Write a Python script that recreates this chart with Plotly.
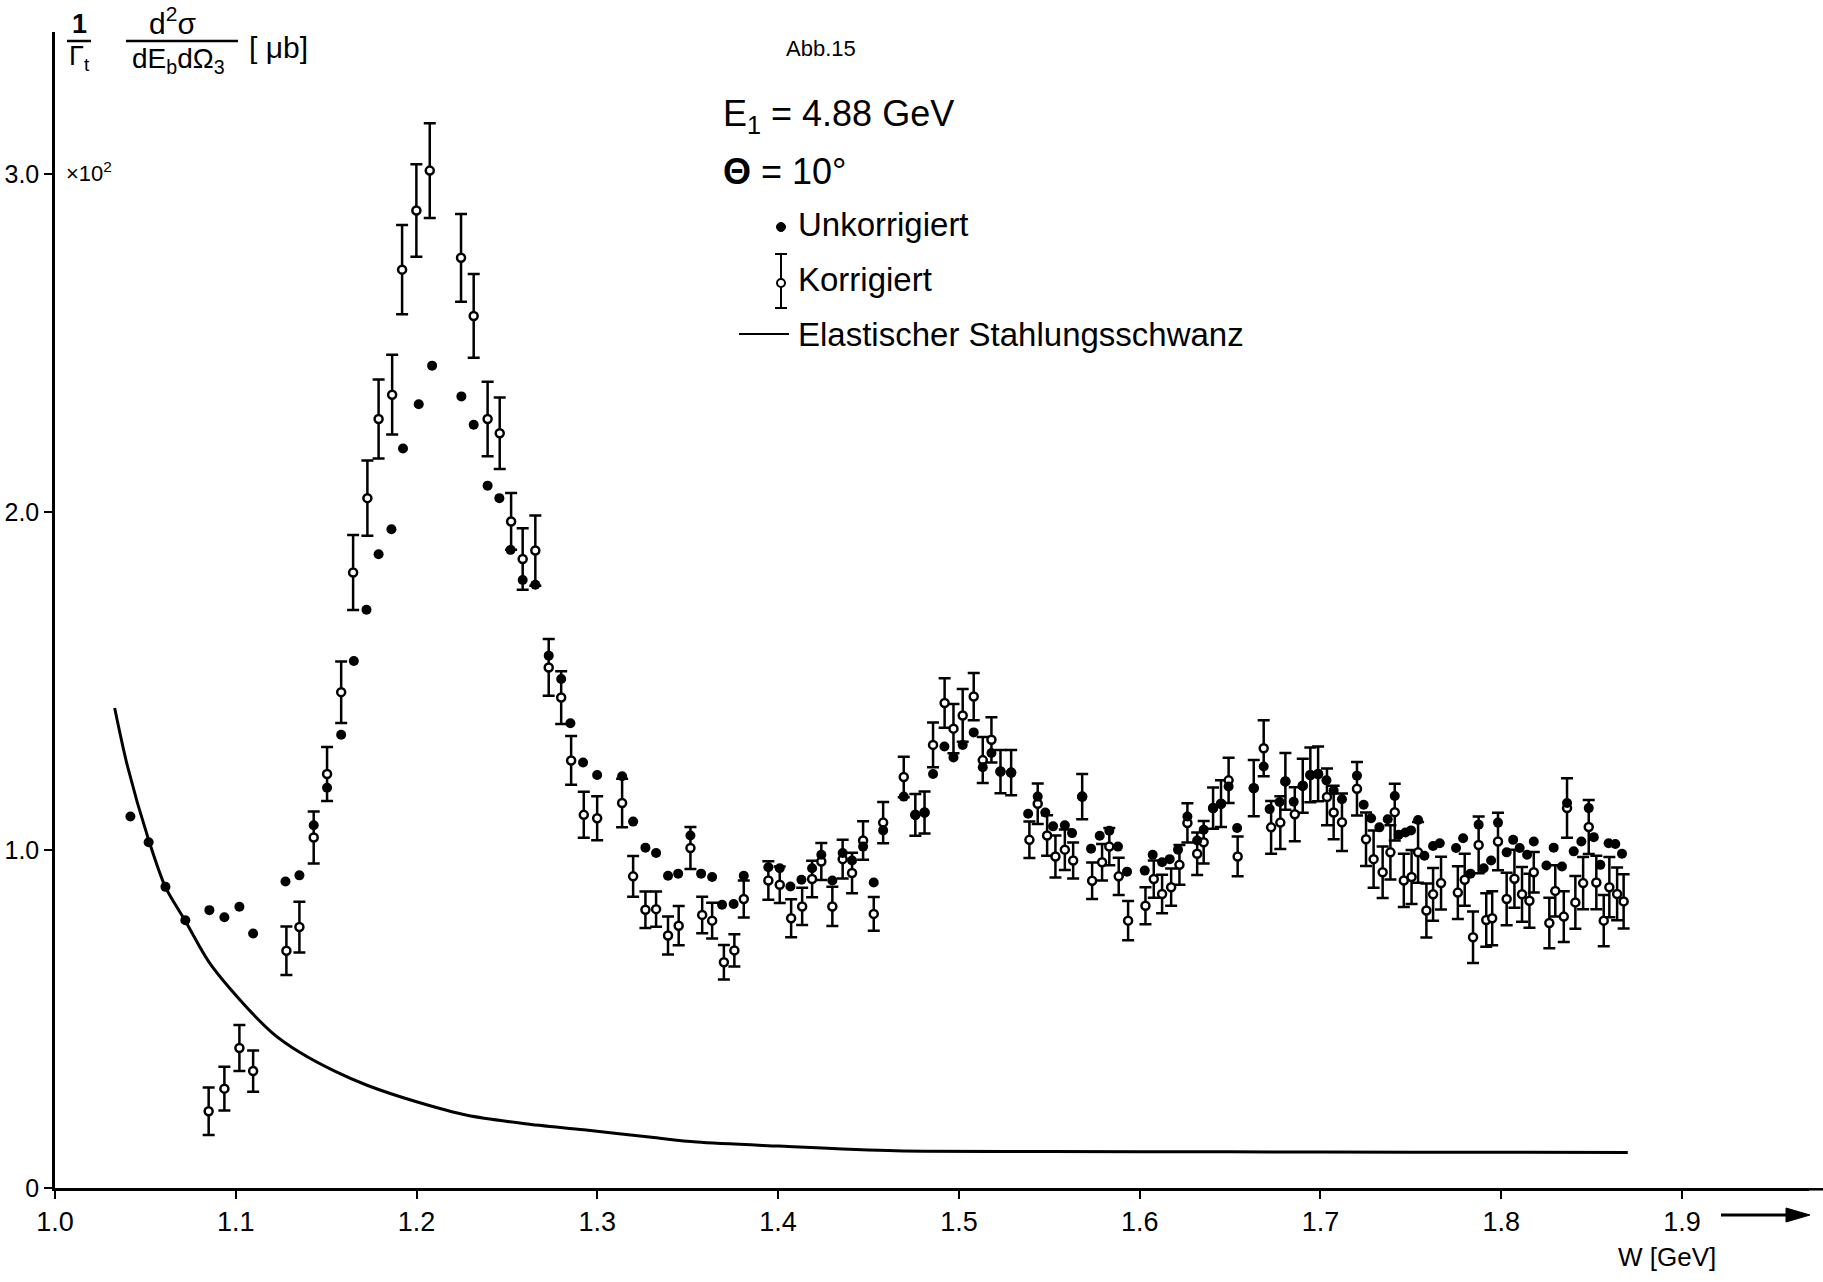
import plotly.graph_objects as go

# ---------------- data ----------------
# Korrigiert: W [GeV], value [x10^2 µb], error
W_korr = [1.085, 1.0937, 1.102, 1.1096, 1.128, 1.1352, 1.1431, 1.1505, 1.1583, 1.1649,
          1.1728, 1.179, 1.1865, 1.192, 1.1999, 1.2073, 1.2246, 1.2316, 1.2393, 1.246,
          1.2523, 1.2587, 1.2657, 1.2731, 1.28, 1.2855, 1.2925, 1.2999, 1.3137, 1.3198,
          1.3266, 1.3325, 1.3391, 1.3450, 1.3515, 1.3580, 1.3635, 1.370, 1.3758, 1.381,
          1.3946, 1.4009, 1.4072, 1.4133, 1.4188, 1.4239, 1.4300, 1.4357, 1.4409, 1.4470,
          1.4529, 1.4581, 1.4695, 1.4759, 1.481, 1.4857, 1.4921, 1.4970, 1.5021, 1.5082,
          1.5132, 1.5180, 1.523, 1.5289, 1.539, 1.5436, 1.5488, 1.5534, 1.5586, 1.5632,
          1.5682, 1.5737, 1.5792, 1.5832, 1.5884, 1.5936, 1.6032, 1.6078, 1.6124, 1.6174,
          1.622, 1.6264, 1.6318, 1.6354, 1.6406, 1.645, 1.6492, 1.6542, 1.6631, 1.6686,
          1.6727, 1.6778, 1.6806, 1.6858, 1.6902, 1.6944, 1.6987, 1.7036, 1.7073, 1.7119,
          1.7202, 1.7252, 1.7294, 1.7344, 1.7387, 1.7411, 1.7461, 1.7504, 1.754, 1.7586,
          1.7623, 1.7667, 1.776, 1.7798, 1.7844, 1.7875, 1.7917, 1.795, 1.7982, 1.803,
          1.8073, 1.8115, 1.8156, 1.818, 1.8266, 1.8299, 1.8346, 1.8364, 1.841, 1.8453,
          1.8484, 1.8526, 1.8567, 1.8598, 1.8641, 1.8677]
V_korr = [0.227, 0.294, 0.414, 0.346, 0.702, 0.772, 1.037, 1.225, 1.467, 1.821,
          2.041, 2.275, 2.347, 2.717, 2.892, 3.010, 2.752, 2.580, 2.275, 2.233,
          1.972, 1.861, 1.886, 1.540, 1.451, 1.265, 1.104, 1.094, 1.139, 0.922,
          0.823, 0.825, 0.747, 0.776, 1.006, 0.808, 0.791, 0.668, 0.703, 0.855,
          0.910, 0.897, 0.798, 0.833, 0.914, 0.966, 0.833, 0.973, 0.932, 1.028,
          0.811, 1.081, 1.216, 1.104, 1.111, 1.311, 1.435, 1.359, 1.398, 1.454,
          1.266, 1.326, 1.232, 1.229, 1.030, 1.137, 1.043, 0.981, 1.001, 0.969,
          1.158, 0.909, 0.964, 1.010, 0.922, 0.791, 0.835, 0.914, 0.870, 0.890,
          0.956, 1.080, 0.989, 1.023, 1.124, 1.137, 1.206, 0.981, 1.183, 1.301,
          1.067, 1.081, 1.203, 1.106, 1.190, 1.222, 1.225, 1.157, 1.111, 1.082,
          1.181, 1.032, 0.973, 0.934, 0.993, 1.112, 0.910, 0.920, 0.993, 0.821,
          0.869, 0.902, 0.874, 0.912, 0.742, 1.015, 0.793, 0.798, 1.025, 0.855,
          0.915, 0.869, 0.850, 0.934, 0.784, 0.879, 0.803, 1.124, 0.845, 0.902,
          1.068, 0.904, 0.791, 0.890, 0.870, 0.848]
E_korr = [0.070, 0.065, 0.068, 0.061, 0.072, 0.075, 0.077, 0.080, 0.091, 0.111,
          0.111, 0.117, 0.118, 0.132, 0.137, 0.140, 0.130, 0.124, 0.110, 0.106,
          0.084, 0.091, 0.104, 0.084, 0.078, 0.072, 0.068, 0.065, 0.072, 0.060,
          0.054, 0.052, 0.056, 0.058, 0.062, 0.054, 0.053, 0.051, 0.048, 0.055,
          0.057, 0.054, 0.056, 0.055, 0.054, 0.055, 0.058, 0.057, 0.060, 0.057,
          0.050, 0.061, 0.060, 0.062, 0.062, 0.066, 0.073, 0.073, 0.078, 0.070,
          0.068, 0.067, 0.064, 0.067, 0.054, 0.060, 0.060, 0.062, 0.060, 0.053,
          0.067, 0.054, 0.054, 0.055, 0.055, 0.058, 0.055, 0.055, 0.057, 0.055,
          0.059, 0.058, 0.063, 0.063, 0.061, 0.069, 0.067, 0.059, 0.083, 0.083,
          0.078, 0.078, 0.084, 0.080, 0.080, 0.081, 0.081, 0.084, 0.079, 0.085,
          0.079, 0.079, 0.085, 0.076, 0.080, 0.084, 0.079, 0.080, 0.090, 0.080,
          0.078, 0.078, 0.078, 0.077, 0.076, 0.084, 0.079, 0.080, 0.085, 0.078,
          0.086, 0.081, 0.080, 0.060, 0.075, 0.076, 0.075, 0.088, 0.078, 0.077,
          0.080, 0.079, 0.076, 0.089, 0.078, 0.080]

# Unkorrigiert: W [GeV], value [x10^2 µb]
W_unk = [1.0417, 1.0518, 1.0611, 1.0721, 1.0854, 1.0937, 1.102, 1.1096, 1.1275, 1.1352,
         1.1431, 1.1505, 1.1583, 1.1653, 1.1723, 1.179, 1.1861, 1.1925, 1.2012, 1.2086,
         1.2248, 1.2316, 1.2393, 1.2458, 1.252, 1.2587, 1.2657, 1.2731, 1.28, 1.2851,
         1.2921, 1.2999, 1.3137, 1.3198, 1.3266, 1.3325, 1.3391, 1.3447, 1.3515, 1.3574,
         1.3635, 1.369, 1.3754, 1.381, 1.3946, 1.4009, 1.4068, 1.4129, 1.4188, 1.4239,
         1.4300, 1.4357, 1.4409, 1.4470, 1.4529, 1.4581, 1.4695, 1.4759, 1.481, 1.4857,
         1.4920, 1.4970, 1.5021, 1.5082, 1.5132, 1.5180, 1.523, 1.5289, 1.5383, 1.5436,
         1.5478, 1.5521, 1.5586, 1.5626, 1.5682, 1.5731, 1.5779, 1.5832, 1.588, 1.593,
         1.6028, 1.6072, 1.6124, 1.6166, 1.6212, 1.6264, 1.6318, 1.6354, 1.6406, 1.645,
         1.6492, 1.6539, 1.6631, 1.6686, 1.6719, 1.6774, 1.6806, 1.6852, 1.6902, 1.6944,
         1.6987, 1.7033, 1.7073, 1.7119, 1.7202, 1.7239, 1.728, 1.7326, 1.7372, 1.7411,
         1.7433, 1.747, 1.7501, 1.754, 1.7575, 1.7623, 1.766, 1.775, 1.7789, 1.783,
         1.7875, 1.7903, 1.7944, 1.7982, 1.803, 1.8066, 1.8102, 1.8143, 1.818, 1.825,
         1.829, 1.8336, 1.8364, 1.8401, 1.8443, 1.8484, 1.8512, 1.8548, 1.8594, 1.8631,
         1.8668]
V_unk = [1.099, 1.023, 0.891, 0.792, 0.822, 0.801, 0.832, 0.753, 0.907, 0.925,
         1.073, 1.184, 1.341, 1.559, 1.711, 1.875, 1.949, 2.188, 2.319, 2.433,
         2.342, 2.258, 2.078, 2.041, 1.888, 1.799, 1.785, 1.575, 1.506, 1.375,
         1.259, 1.222, 1.218, 1.084, 1.007, 0.991, 0.924, 0.930, 1.043, 0.930,
         0.920, 0.838, 0.840, 0.924, 0.949, 0.946, 0.892, 0.912, 0.946, 0.986,
         0.910, 0.991, 0.969, 1.010, 0.904, 1.058, 1.158, 1.104, 1.111, 1.225,
         1.306, 1.274, 1.311, 1.348, 1.245, 1.287, 1.232, 1.229, 1.107, 1.158,
         1.111, 1.070, 1.073, 1.050, 1.158, 1.004, 1.042, 1.057, 1.010, 0.936,
         0.939, 0.986, 0.964, 0.973, 1.001, 1.099, 1.028, 1.060, 1.124, 1.137,
         1.188, 1.065, 1.183, 1.247, 1.121, 1.142, 1.203, 1.143, 1.190, 1.222,
         1.225, 1.206, 1.176, 1.150, 1.220, 1.134, 1.094, 1.067, 1.091, 1.160,
         1.045, 1.052, 1.058, 1.089, 0.983, 1.012, 1.020, 1.006, 1.035, 0.930,
         1.075, 0.946, 0.969, 1.081, 0.993, 1.030, 1.006, 0.986, 1.025, 0.954,
         1.007, 0.951, 1.139, 0.996, 1.025, 1.124, 1.038, 0.956, 1.020, 1.018,
         0.989]

# Elastischer Strahlungsschwanz (curve)
W_tail = [1.033, 1.040, 1.0518, 1.0611, 1.0721, 1.085, 1.1026, 1.12, 1.1358, 1.155,
          1.1726, 1.20, 1.228, 1.26, 1.2925, 1.33, 1.355, 1.40, 1.465, 1.55,
          1.65, 1.75, 1.87]
V_tail = [1.42, 1.25, 1.03, 0.89, 0.79, 0.67, 0.555, 0.46, 0.40, 0.345,
          0.304, 0.255, 0.215, 0.19, 0.172, 0.150, 0.136, 0.124, 0.110, 0.108,
          0.107, 0.106, 0.105]

x_tickvals = [1.0, 1.1, 1.2, 1.3, 1.4, 1.5, 1.6, 1.7, 1.8, 1.9]
x_ticktext = ["1.0", "1.1", "1.2", "1.3", "1.4", "1.5", "1.6", "1.7", "1.8", "1.9"]
y_tickvals = [0, 1, 2, 3]
y_ticktext = ["0", "1.0", "2.0", "3.0"]

# ---------------- layout geometry ----------------
FW, FH = 1823, 1282
ML, MR, MT, MB = 55, 14, 32, 94
PW, PH = FW - ML - MR, FH - MT - MB
X_PER_UNIT = 1807.8   # px per GeV
Y_PER_UNIT = 338.0    # px per 1.0 (x10^2)
x_range = [1.0, 1.0 + PW / X_PER_UNIT]
y_range = [0, PH / Y_PER_UNIT]

FONT = "Liberation Sans, Arial, sans-serif"


def PX(x):
    return (x - ML) / PW


def PY(y):
    return (FH - MB - y) / PH


fig = go.Figure()

fig.add_trace(go.Scatter(
    x=W_tail, y=V_tail, mode="lines",
    line=dict(color="black", width=3, shape="spline", smoothing=0.8),
    showlegend=False, hoverinfo="skip"))

fig.add_trace(go.Scatter(
    x=W_korr, y=V_korr, mode="markers",
    marker=dict(symbol="circle", size=8, color="white",
                line=dict(color="black", width=2.5)),
    error_y=dict(type="data", array=E_korr, visible=True,
                 color="black", thickness=2.5, width=6),
    showlegend=False))

fig.add_trace(go.Scatter(
    x=W_unk, y=V_unk, mode="markers",
    marker=dict(symbol="circle", size=10, color="black"),
    showlegend=False))

ann = []
shapes = []


def text(x, y, s, size, xanchor="left", yanchor="middle"):
    ann.append(dict(x=PX(x), y=PY(y), xref="paper", yref="paper", text=s,
                    showarrow=False, xanchor=xanchor, yanchor=yanchor,
                    font=dict(family=FONT, size=size, color="black")))


def hline(x0, x1, y, w=2.5):
    shapes.append(dict(type="line", xref="paper", yref="paper",
                       x0=PX(x0), x1=PX(x1), y0=PY(y), y1=PY(y),
                       line=dict(color="black", width=w)))


def vline(x, y0, y1, w=2.5):
    shapes.append(dict(type="line", xref="paper", yref="paper",
                       x0=PX(x), x1=PX(x), y0=PY(y0), y1=PY(y1),
                       line=dict(color="black", width=w)))


def circ(x, y, r, fill, w=2):
    shapes.append(dict(type="circle", xref="paper", yref="paper",
                       x0=PX(x - r), x1=PX(x + r), y0=PY(y + r), y1=PY(y - r),
                       fillcolor=fill, line=dict(color="black", width=w)))


# y-axis title (fractions)
text(79, 24, "<b>1</b>", 27, "center")
hline(67, 91, 41)
text(79, 58, "Γ<sub>t</sub>", 27, "center")
text(172, 21, "d<sup>2</sup>σ", 30, "center")
hline(126, 238, 41)
text(178, 60, "dE<sub>b</sub>dΩ<sub>3</sub>", 28, "center")
text(247, 47, "[ μb]", 30, "left")
text(64, 172, "×10<sup>2</sup>", 22, "left")

# header + legend
text(821, 49, "Abb.15", 22, "center")
text(721, 116, "E<sub>1</sub> = 4.88 GeV", 36, "left")
text(721, 171, "<b>Θ</b> = 10°", 36, "left")
circ(781, 227, 4.5, "black", 1)
text(796, 224, "Unkorrigiert", 33, "left")
vline(781, 254, 308, 2)
hline(775, 787, 254, 2)
hline(775, 787, 308, 2)
circ(781, 283, 4, "white", 2)
text(796, 279, "Korrigiert", 33, "left")
hline(739, 789, 334, 2)
text(796, 334, "Elastischer Stahlungsschwanz", 33, "left")

# x-axis extends to the page edge; title and arrow
hline(FW - MR - 2, FW, FH - MB + 1.3, 2.5)
text(1667, 1257, "W [GeV]", 26, "center")
hline(1721, 1792, 1215, 3)
shapes.append(dict(type="path", xref="paper", yref="paper",
                   path="M {a},{b} L {c},{d} L {e},{f} Z".format(
                       a=PX(1786), b=PY(1208), c=PX(1810), d=PY(1215),
                       e=PX(1786), f=PY(1222)),
                   fillcolor="black", line=dict(color="black", width=1)))

fig.update_layout(
    width=FW, height=FH,
    margin=dict(l=ML, r=MR, t=MT, b=MB, pad=0),
    paper_bgcolor="white", plot_bgcolor="white",
    font=dict(family=FONT, color="black"),
    annotations=ann, shapes=shapes,
    xaxis=dict(range=x_range, tickvals=x_tickvals, ticktext=x_ticktext,
               automargin=False,
               showgrid=False, zeroline=False, showline=True, linecolor="black",
               linewidth=2.5, ticks="outside", ticklen=8, tickwidth=2,
               tickcolor="black", tickfont=dict(family=FONT, size=27)),
    yaxis=dict(range=y_range, tickvals=y_tickvals, ticktext=y_ticktext,
               automargin=False,
               showgrid=False, zeroline=False, showline=True, linecolor="black",
               linewidth=2.5, ticks="outside", ticklen=8, tickwidth=2,
               tickcolor="black", tickfont=dict(family=FONT, size=25)),
)

fig.write_html("out.html", config={"displayModeBar": False},
               post_script="document.body.style.margin='0';")
